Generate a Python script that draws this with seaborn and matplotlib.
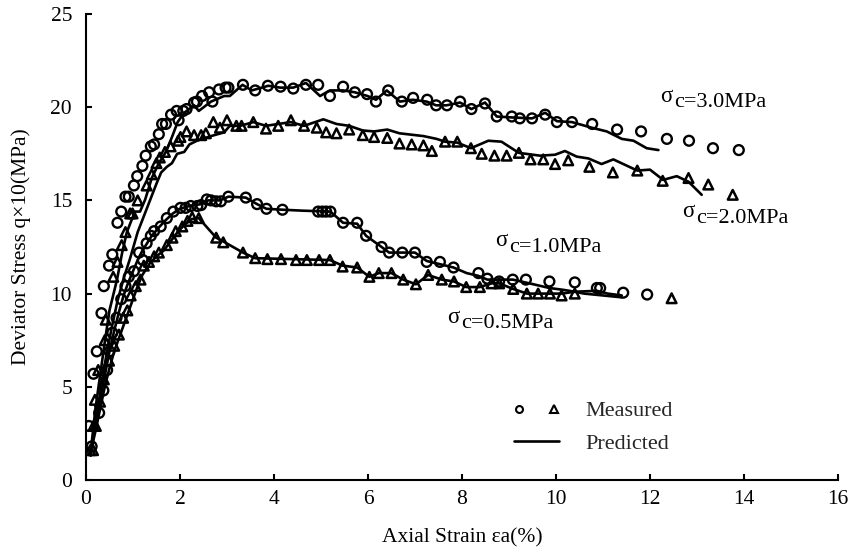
import numpy as np
import pandas as pd
import matplotlib
matplotlib.use("Agg")
import matplotlib.pyplot as plt
from matplotlib.lines import Line2D
from matplotlib.legend_handler import HandlerTuple
import seaborn as sns

# ---- measured data (axial strain %, deviator stress q x10 MPa) ----
m30_x = [0.06, 0.16, 0.23, 0.33, 0.38, 0.49, 0.56, 0.67, 0.75, 0.84, 0.91, 1.02, 1.09, 1.20, 1.27,
         1.38, 1.45, 1.55, 1.62, 1.70, 1.81, 1.93, 1.97, 2.07, 2.14, 2.30, 2.36, 2.47, 2.62, 2.69,
         2.83, 2.97, 3.03, 3.34, 3.60, 3.87, 4.14, 4.41, 4.68, 4.94, 5.19, 5.47, 5.72, 5.98, 6.17,
         6.43, 6.72, 6.96, 7.26, 7.45, 7.68, 7.96, 8.20, 8.49, 8.74, 9.06, 9.23, 9.49, 9.77, 10.02,
         10.34, 10.77, 11.30, 11.81, 12.36, 12.83, 13.34, 13.89]
m30_y = [2.9, 5.7, 6.9, 8.95, 10.4, 11.5, 12.1, 13.8, 14.4, 15.2, 15.2, 15.8, 16.3, 16.85, 17.4,
         17.9, 18.0, 18.55, 19.1, 19.1, 19.6, 19.8, 19.3, 19.8, 19.9, 20.25, 20.3, 20.6, 20.8, 20.3,
         20.95, 21.05, 21.05, 21.2, 20.9, 21.15, 21.1, 21.0, 21.2, 21.2, 20.6, 21.1, 20.8, 20.7, 20.3,
         20.9, 20.3, 20.5, 20.4, 20.1, 20.1, 20.3, 19.9, 20.2, 19.5, 19.5, 19.4, 19.4, 19.6, 19.2,
         19.2, 19.1, 18.8, 18.7, 18.3, 18.2, 17.8, 17.7]

m20_x = [0.09, 0.16, 0.19, 0.26, 0.40, 0.42, 0.58, 0.67, 0.76, 0.84, 0.94, 0.99, 1.10, 1.29, 1.40,
         1.50, 1.57, 1.68, 1.80, 1.96, 2.01, 2.14, 2.30, 2.45, 2.55, 2.71, 2.85, 3.00, 3.20, 3.31,
         3.56, 3.83, 4.09, 4.36, 4.64, 4.91, 5.11, 5.33, 5.60, 5.89, 6.13, 6.41, 6.67, 6.93, 7.18,
         7.36, 7.64, 7.90, 8.19, 8.42, 8.69, 8.95, 9.21, 9.46, 9.73, 9.98, 10.26, 10.71, 11.21,
         11.73, 12.27, 12.82, 13.24, 13.76]
m20_y = [1.6, 2.9, 4.3, 5.9, 7.5, 8.6, 10.9, 11.7, 12.6, 13.3, 14.3, 14.3, 15.0, 15.8, 16.4,
         17.0, 17.3, 17.6, 17.9, 18.2, 18.4, 18.7, 18.5, 18.5, 18.6, 19.2, 18.9, 19.3, 19.0, 19.0,
         19.2, 18.85, 19.0, 19.3, 19.0, 18.9, 18.65, 18.6, 18.8, 18.5, 18.4, 18.35, 18.05, 18.0, 17.95,
         17.65, 18.15, 18.15, 17.8, 17.5, 17.4, 17.4, 17.55, 17.2, 17.2, 16.95, 17.15, 16.8, 16.5,
         16.6, 16.05, 16.2, 15.85, 15.3]

m10_x = [0.12, 0.28, 0.37, 0.45, 0.50, 0.56, 0.65, 0.75, 0.84, 0.91, 1.02, 1.13, 1.21, 1.29, 1.38,
         1.45, 1.59, 1.72, 1.86, 2.01, 2.12, 2.23, 2.37, 2.45, 2.57, 2.66, 2.77, 2.87, 3.03, 3.40,
         3.64, 3.84, 4.18, 4.94, 5.03, 5.11, 5.20, 5.47, 5.77, 5.96, 6.29, 6.45, 6.73, 7.00, 7.25,
         7.53, 7.82, 8.35, 8.54, 8.79, 9.08, 9.36, 9.86, 10.40, 10.87, 10.94, 11.43, 11.94]
m10_y = [1.8, 3.6, 4.8, 5.9, 6.9, 7.9, 8.7, 9.7, 10.4, 10.9, 11.2, 12.2, 11.8, 12.7, 13.1,
         13.35, 13.6, 14.05, 14.4, 14.6, 14.6, 14.7, 14.7, 14.75, 15.05, 15.0, 14.95, 14.95, 15.2, 15.15,
         14.8, 14.55, 14.5, 14.4, 14.4, 14.4, 14.4, 13.8, 13.8, 13.1, 12.5, 12.2, 12.2, 12.2, 11.7,
         11.7, 11.4, 11.1, 10.8, 10.65, 10.75, 10.75, 10.65, 10.6, 10.3, 10.3, 10.05, 9.95]

m05_x = [0.15, 0.21, 0.30, 0.38, 0.49, 0.60, 0.70, 0.79, 0.88, 0.95, 1.06, 1.16, 1.23, 1.34, 1.45,
         1.55, 1.72, 1.84, 1.91, 2.05, 2.16, 2.26, 2.40, 2.77, 2.92, 3.34, 3.60, 3.86, 4.15, 4.47,
         4.70, 4.96, 5.19, 5.46, 5.77, 6.03, 6.23, 6.50, 6.75, 7.02, 7.28, 7.57, 7.83, 8.09, 8.38,
         8.63, 8.79, 9.09, 9.38, 9.62, 9.87, 10.12, 10.40, 12.46]
m05_y = [1.6, 2.9, 4.2, 5.4, 6.4, 7.2, 7.8, 8.7, 9.1, 9.9, 10.4, 10.75, 11.5, 11.7, 12.0,
         12.2, 12.6, 13.0, 13.35, 13.6, 13.9, 14.1, 14.05, 13.0, 12.75, 12.2, 11.9, 11.85, 11.85, 11.8,
         11.8, 11.8, 11.8, 11.45, 11.4, 10.9, 11.1, 11.1, 10.75, 10.5, 11.0, 10.75, 10.65, 10.35, 10.35,
         10.55, 10.55, 10.25, 10.0, 10.0, 10.0, 9.9, 10.0, 9.75]

# ---- predicted curves ----
p30_x = [0.10, 0.20, 0.30, 0.40, 0.50, 0.66, 0.77, 0.87, 1.04, 1.15, 1.26, 1.40, 1.55, 1.70, 1.83,
         1.95, 2.09, 2.30, 2.40, 2.66, 2.94, 3.06, 3.33, 3.53, 3.88, 4.13, 4.41, 4.68, 4.98, 5.19,
         5.47, 5.72, 5.99, 6.17, 6.40, 6.68, 6.95, 7.25, 7.45, 7.67, 7.96, 8.20, 8.49, 8.74, 9.06,
         9.49, 9.77, 10.02, 10.34, 10.76, 11.08, 11.40, 11.65, 11.93, 12.18]
p30_y = [1.5, 3.8, 5.6, 7.4, 9.1, 10.75, 12.2, 13.3, 14.4, 14.4, 15.05, 16.2, 17.0, 17.6, 18.4,
         19.2, 19.7, 20.1, 19.8, 20.3, 20.6, 20.6, 21.2, 20.9, 21.15, 21.05, 21.05, 21.3, 20.6, 20.9,
         20.9, 20.8, 20.6, 20.4, 20.9, 20.3, 20.4, 20.3, 20.1, 20.1, 20.25, 19.9, 20.25, 19.5, 19.45,
         19.4, 19.7, 19.25, 19.2, 18.9, 18.7, 18.3, 18.2, 17.8, 17.7]

p20_x = [0.10, 0.20, 0.30, 0.42, 0.55, 0.67, 0.80, 0.94, 1.10, 1.30, 1.50, 1.60, 1.72, 1.83, 1.94,
         2.09, 2.20, 2.36, 2.66, 2.94, 3.06, 3.28, 3.56, 3.83, 4.09, 4.36, 4.64, 5.05, 5.33, 5.60,
         5.89, 6.13, 6.41, 6.67, 7.18, 7.46, 7.64, 7.90, 8.19, 8.56, 8.84, 9.21, 9.66, 9.98, 10.19,
         10.44, 10.69, 10.97, 11.22, 11.73, 12.00, 12.28, 12.57, 12.82, 13.10]
p20_y = [1.3, 3.0, 4.6, 6.5, 8.2, 9.6, 10.8, 11.9, 13.3, 14.6, 15.9, 16.5, 16.8, 17.0, 17.5,
         17.6, 18.0, 18.2, 18.45, 18.65, 19.0, 19.0, 19.2, 19.0, 19.1, 19.2, 19.0, 19.35, 19.1, 19.0,
         18.75, 18.7, 18.8, 18.6, 18.45, 18.3, 18.15, 18.1, 17.8, 18.2, 18.15, 17.55, 17.4, 17.45, 17.65,
         17.35, 17.25, 16.95, 17.2, 16.6, 16.65, 16.1, 16.3, 16.0, 15.3]

p10_x = [0.10, 0.20, 0.30, 0.40, 0.50, 0.60, 0.70, 0.80, 0.90, 1.00, 1.10, 1.20, 1.30, 1.40, 1.55,
         1.70, 1.85, 2.00, 2.20, 2.45, 2.60, 2.85, 3.03, 3.40, 3.64, 3.84, 4.18, 4.60, 5.20, 5.47,
         5.77, 5.96, 6.29, 6.45, 7.00, 7.25, 7.82, 8.10, 8.35, 8.54, 9.08, 9.52, 9.86, 10.16, 10.40,
         10.87, 11.10, 11.40]
p10_y = [1.5, 2.9, 4.3, 5.6, 6.9, 8.0, 9.0, 9.9, 10.6, 11.2, 11.8, 12.3, 12.7, 13.1, 13.55,
         13.95, 14.3, 14.55, 14.7, 14.8, 15.0, 15.0, 15.2, 15.15, 14.8, 14.55, 14.5, 14.45, 14.4, 13.8,
         13.75, 13.1, 12.5, 12.2, 12.2, 11.75, 11.4, 11.1, 10.95, 10.75, 10.75, 10.5, 10.3, 10.2, 10.1,
         10.15, 10.0, 9.9]

p05_x = [0.10, 0.20, 0.30, 0.40, 0.50, 0.60, 0.70, 0.80, 0.90, 1.00, 1.10, 1.20, 1.35, 1.50, 1.65,
         1.80, 1.95, 2.10, 2.25, 2.40, 2.77, 2.92, 3.34, 3.60, 5.19, 5.46, 5.77, 6.03, 6.23, 6.50,
         6.75, 7.02, 7.28, 7.57, 7.83, 8.09, 8.38, 8.63, 8.79, 9.09, 9.38, 10.12, 10.40, 10.60, 11.40]
p05_y = [1.5, 2.6, 3.8, 5.0, 6.0, 6.9, 7.6, 8.3, 9.0, 9.7, 10.4, 11.0, 11.6, 12.0, 12.3,
         12.8, 13.3, 13.7, 14.0, 14.05, 13.0, 12.8, 12.2, 11.9, 11.8, 11.5, 11.4, 10.9, 11.1, 11.1,
         10.75, 10.5, 11.0, 10.75, 10.65, 10.35, 10.35, 10.55, 10.55, 10.25, 10.0, 10.0, 10.1, 10.0, 9.8]

curve_labels = ["3.0", "2.0", "1.0", "0.5"]
x_ticks = [0, 2, 4, 6, 8, 10, 12, 14, 16]
y_ticks = [0, 5, 10, 15, 20, 25]

sns.set_theme(style="ticks")
plt.rcParams["font.family"] = ["Liberation Serif", "DejaVu Serif"]
plt.rcParams["mathtext.fontset"] = "stix"

fig = plt.figure(figsize=(8.53, 5.53), dpi=100)
ax = fig.add_axes([0.1008, 0.132, 0.8816, 0.8427])

line_kw = dict(color="black", linewidth=1.9, estimator=None, sort=False, legend=False)
for px, py in [(p30_x, p30_y), (p20_x, p20_y), (p10_x, p10_y), (p05_x, p05_y)]:
    df = pd.DataFrame({"strain": px, "stress": py})
    sns.lineplot(data=df, x="strain", y="stress", ax=ax, **line_kw)

circ_kw = dict(marker="o", s=50, facecolor="none", edgecolor="black", linewidth=1.7, legend=False, zorder=3)
tri_kw = dict(marker="^", s=48, facecolor="none", edgecolor="black", linewidth=1.8, legend=False, zorder=3)
for mx, my in [(m30_x, m30_y), (m10_x, m10_y)]:
    sns.scatterplot(x=mx, y=my, ax=ax, **circ_kw)
for mx, my in [(m20_x, m20_y), (m05_x, m05_y)]:
    sns.scatterplot(x=mx, y=my, ax=ax, **tri_kw)

ax.set_xlim(0, 16)
ax.set_ylim(0, 25)
ax.set_xticks(x_ticks)
ax.set_yticks(y_ticks)
ax.set_xticklabels([str(t) for t in x_ticks])
ax.set_yticklabels([str(t) for t in y_ticks])
sns.despine(ax=ax)
for side in ("left", "bottom"):
    ax.spines[side].set_linewidth(1.5)
    ax.spines[side].set_color("black")
ax.tick_params(axis="both", direction="in", length=4.5, width=1.5, colors="black", labelsize=15.5)
ax.tick_params(axis="x", pad=7)
ax.tick_params(axis="y", pad=10)

ax.set_xlabel("Axial Strain εa(%)", fontsize=15.5, color="black", labelpad=14)
ax.set_ylabel("Deviator Stress q×10(MPa)", fontsize=15.5, color="black", labelpad=14)

# confining pressure annotations: sigma sits slightly above the rest of the label
label_pos = {"3.0": (12.21, 20.27), "2.0": (12.68, 14.09), "1.0": (8.70, 12.53), "0.5": (7.68, 8.44)}
for lab in curve_labels:
    lx, ly = label_pos[lab]
    ax.text(lx, ly, "σ", fontsize=16.5, ha="left", va="baseline", color="black")
    ax.text(lx + 0.30, ly - 0.28, f"c={lab}MPa", fontsize=16, ha="left", va="baseline", color="black")

h_circ = Line2D([], [], marker="o", linestyle="none", markersize=5, markerfacecolor="none",
                markeredgecolor="black", markeredgewidth=1.5)
h_tri = Line2D([], [], marker="^", linestyle="none", markersize=5.5, markerfacecolor="none",
               markeredgecolor="black", markeredgewidth=1.5)
h_line = Line2D([], [], color="black", linewidth=1.9)
ax.legend(handles=[(h_circ, h_tri), h_line], labels=["Measured", "Predicted"],
          handler_map={tuple: HandlerTuple(ndivide=None, pad=1.1)},
          frameon=False, loc="upper left", bbox_to_anchor=(0.543, 0.213),
          handlelength=2.0, handletextpad=1.2, labelspacing=0.55, fontsize=16)

fig.savefig("out.png", dpi=100)
